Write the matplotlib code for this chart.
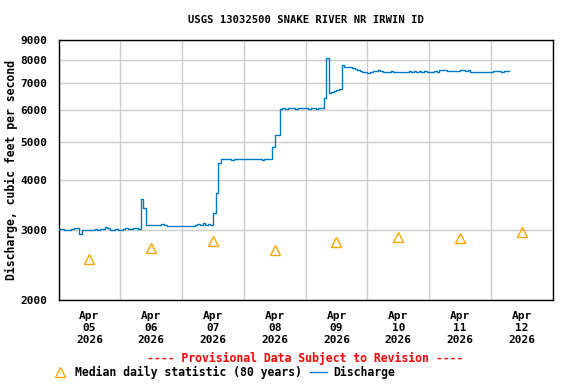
import numpy as np
import pandas as pd
import matplotlib
matplotlib.use("Agg")
import matplotlib.pyplot as plt
import matplotlib.dates as mdates
from matplotlib.ticker import FixedLocator, NullLocator, FixedFormatter
from matplotlib.lines import Line2D

# hourly discharge (cfs)
apr05 = [3015, 3010, 3005, 3005, 3000, 3010, 3030, 3025, 2935, 2990, 2995, 2990,
         2995, 3000, 3010, 3005, 3010, 3015, 3045, 3030, 3005, 3000, 3010, 2990]
apr06 = [2990, 3020, 3025, 3015, 3020, 3025, 3030, 3010, 3580, 3400, 3085, 3080,
         3085, 3080, 3085, 3090, 3110, 3090, 3065, 3060, 3060, 3065, 3060, 3065]
apr07 = [3070, 3065, 3070, 3075, 3070, 3080, 3110, 3095, 3115, 3090, 3100, 3095,
         3300, 3710, 4420, 4510, 4515, 4510, 4510, 4505, 4510, 4515, 4510, 4510]
apr08 = [4510, 4515, 4510, 4510, 4515, 4510, 4510, 4505, 4510, 4510, 4515, 4860,
         5190, 5200, 6030, 6060, 6050, 6070, 6060, 6080, 6050, 6060, 6070, 6060]
apr09 = [6060, 6050, 6060, 6070, 6050, 6060, 6070, 6420, 8090, 6620, 6680, 6700,
         6720, 6780, 7770, 7720, 7710, 7690, 7640, 7630, 7560, 7540, 7490, 7480]
apr10 = [7450, 7490, 7540, 7530, 7550, 7520, 7480, 7470, 7490, 7510, 7500, 7490,
         7460, 7480, 7470, 7500, 7520, 7490, 7510, 7500, 7520, 7490, 7510, 7500]
apr11 = [7500, 7490, 7510, 7500, 7560, 7550, 7570, 7540, 7530, 7520, 7540, 7530,
         7550, 7560, 7540, 7550, 7490, 7480, 7500, 7480, 7470, 7490, 7460, 7480]
apr12 = [7500, 7520, 7510, 7530, 7500, 7520, 7530, 7510]

median_days = ["2026-04-05", "2026-04-06", "2026-04-07", "2026-04-08",
               "2026-04-09", "2026-04-10", "2026-04-11", "2026-04-12"]
median_vals = [2540, 2700, 2820, 2665, 2790, 2875, 2860, 2960]

y_ticks = [2000, 3000, 4000, 5000, 6000, 7000, 8000, 9000]

flow = apr05 + apr06 + apr07 + apr08 + apr09 + apr10 + apr11 + apr12
times = pd.date_range("2026-04-05 00:00", periods=len(flow), freq="h")
med_t = pd.to_datetime(median_days) + pd.Timedelta(hours=12)

plt.rcParams['font.family'] = 'DejaVu Sans Mono'
plt.rcParams['font.weight'] = 'bold'
plt.rcParams['axes.titleweight'] = 'bold'
plt.rcParams['axes.labelweight'] = 'bold'

fig = plt.figure(figsize=(5.76, 3.84), dpi=100)
ax = fig.add_axes([58.5/576, 1-300/384, 494.2/576, 260/384])

blue = '#0078C8'
orange = '#FFA500'

ax.plot(times, flow, color=blue, lw=1.0, drawstyle='steps-post', zorder=3)
ax.plot(med_t, median_vals, ls='none', marker='^', ms=6.5, mfc='none',
        mec=orange, mew=1.0, zorder=4)

ax.set_yscale('log')
ax.set_ylim(2000, 9000)
ax.yaxis.set_major_locator(FixedLocator(y_ticks))
ax.yaxis.set_major_formatter(FixedFormatter([str(v) for v in y_ticks]))
ax.yaxis.set_minor_locator(NullLocator())

ax.set_xlim(pd.Timestamp("2026-04-05"), pd.Timestamp("2026-04-13"))
ax.xaxis.set_major_locator(mdates.HourLocator(byhour=[12]))
ax.xaxis.set_major_formatter(mdates.DateFormatter("%b\n%d\n%Y"))
ax.xaxis.set_minor_locator(mdates.DayLocator())

ax.grid(True, which='minor', axis='x', color='#CCCCCC', lw=1.0)
ax.grid(True, which='major', axis='y', color='#CCCCCC', lw=1.0)
ax.set_axisbelow(True)
ax.tick_params(which='both', length=0)
ax.tick_params(axis='y', labelsize=8, pad=8)
ax.tick_params(axis='x', labelsize=8, pad=8)
for lab in ax.get_xticklabels():
    lab.set_linespacing(1.25)

for s in ax.spines.values():
    s.set_linewidth(1.0)
    s.set_color('black')

ax.set_ylabel("Discharge, cubic feet per second", fontsize=8.3, labelpad=2)
ax.set_title("USGS 13032500 SNAKE RIVER NR IRWIN ID", fontsize=7.6, pad=12)

fig.text(305.5/576, 1-358.7/384, "---- Provisional Data Subject to Revision ----",
         color='red', fontsize=8.3, ha='center', va='center')

handles = [Line2D([], [], ls='none', marker='^', ms=6.5, mfc='none', mec=orange, mew=1.0),
           Line2D([], [], color=blue, lw=1.0)]
fig.legend(handles, ["Median daily statistic (80 years)", "Discharge"],
           loc='center left', bbox_to_anchor=(52/576, 1-372/384), ncol=2,
           frameon=False, fontsize=8.3, handlelength=1.45, handletextpad=0.55,
           columnspacing=0.7, borderpad=0, borderaxespad=0)

fig.savefig("out.png", dpi=100)
